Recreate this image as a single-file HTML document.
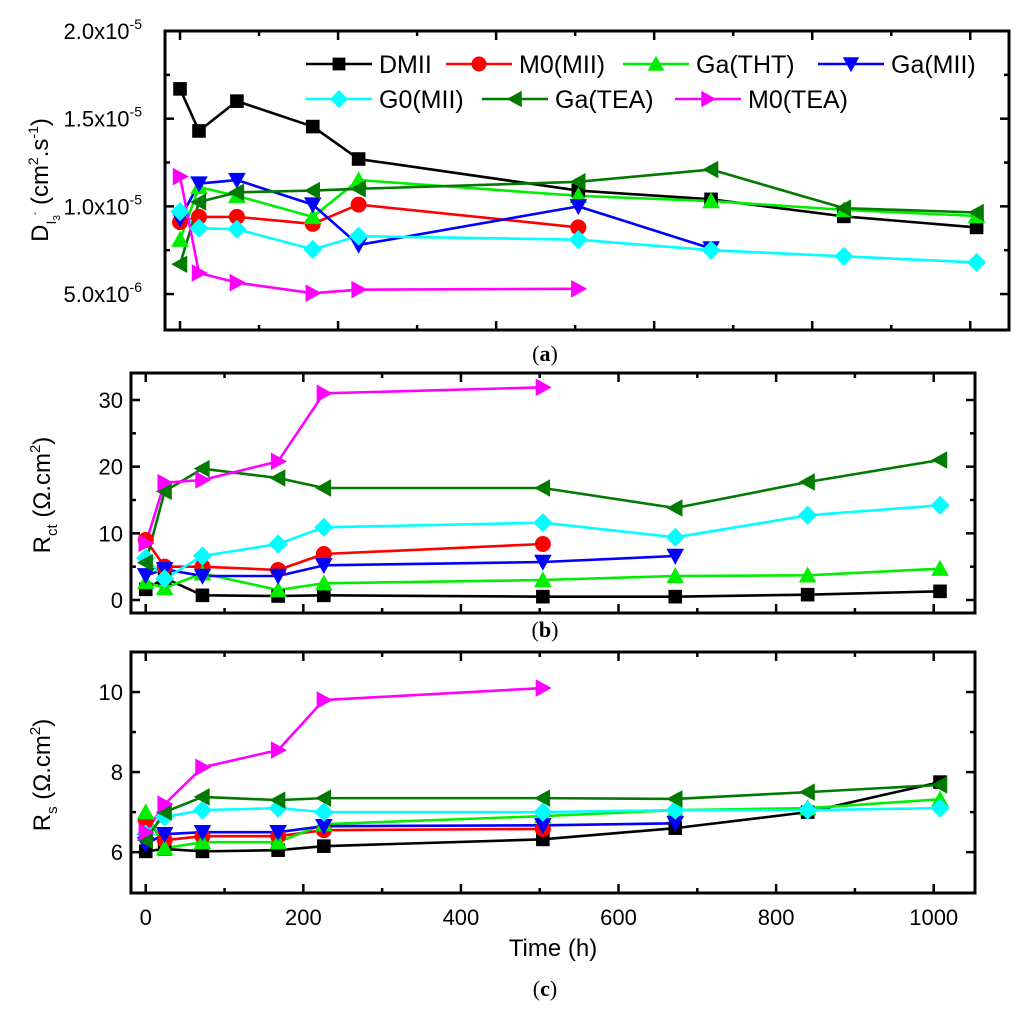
<!DOCTYPE html>
<html><head><meta charset="utf-8"><style>
html,body{margin:0;padding:0;background:#fff;}
svg{display:block;font-family:"Liberation Sans",sans-serif;}
</style></head><body>
<svg id="chart" width="1024" height="1016" viewBox="0 0 1024 1016" xmlns="http://www.w3.org/2000/svg"></svg>
<script>
const seriesNames = ["DMII","M0(MII)","Ga(THT)","Ga(MII)","G0(MII)","Ga(TEA)","M0(TEA)"];
const seriesColors = ["#000000","#ff0000","#00ee00","#0000ff","#00ffff","#007a00","#ff00ff"];
const seriesMarkers = ["square","circle","up","down","diamond","left","right"];

// Panel (a): D_I3 (x1e-5)
const timesA = [0,24,72,168,226,504,672,840,1008];
const dA_DMII = [1.67,1.43,1.60,1.455,1.27,1.09,1.04,0.943,0.88];
const dA_M0MII = [0.91,0.94,0.94,0.90,1.01,0.88];
const dA_GaTHT = [0.81,1.11,1.06,0.94,1.15,1.06,1.03,0.98,0.945];
const dA_GaMII = [0.93,1.13,1.15,1.01,0.78,1.00,0.76];
const dA_G0MII = [0.97,0.875,0.87,0.755,0.83,0.81,0.75,0.715,0.68];
const dA_GaTEA = [0.67,1.025,1.08,1.09,1.10,1.14,1.21,0.99,0.965];
const dA_M0TEA = [1.17,0.62,0.565,0.505,0.525,0.53];
const yTicksA = ["5.0x10","1.0x10","1.5x10","2.0x10"];
const yTickValsA = [0.5,1.0,1.5,2.0];
const yTickExpA = ["-6","-5","-5","-5"];

// Panel (b): Rct
const times = [0,24,72,168,226,504,672,840,1008];
const dB_DMII = [1.6,3.3,0.7,0.6,0.7,0.5,0.5,0.8,1.3];
const dB_M0MII = [9.0,5.0,5.0,4.5,6.9,8.4];
const dB_GaTHT = [2.7,1.8,4.0,1.5,2.5,3.0,3.6,3.7,4.7];
const dB_GaMII = [3.7,4.6,3.6,3.6,5.2,5.7,6.6];
const dB_G0MII = [6.3,3.2,6.6,8.4,10.9,11.6,9.4,12.7,14.2];
const dB_GaTEA = [5.6,16.3,19.7,18.3,16.8,16.8,13.8,17.7,21.0];
const dB_M0TEA = [8.5,17.6,18.0,20.8,31.0,31.9];
const yTicksB = ["0","10","20","30"];

// Panel (c): Rs
const dC_DMII = [6.02,6.08,6.02,6.05,6.15,6.32,6.6,7.0,7.75];
const dC_M0MII = [6.8,6.3,6.4,6.4,6.55,6.58];
const dC_GaTHT = [7.0,6.1,6.25,6.25,6.7,6.9,7.05,7.1,7.32];
const dC_GaMII = [6.2,6.45,6.5,6.5,6.65,6.67,6.72];
const dC_G0MII = [6.45,6.88,7.05,7.1,7.0,7.0,7.05,7.05,7.1];
const dC_GaTEA = [6.3,7.0,7.38,7.3,7.35,7.35,7.33,7.5,7.68];
const dC_M0TEA = [6.5,7.2,8.12,8.55,9.8,10.1];
const yTicksC = ["6","8","10"];
const xTicksC = ["0","200","400","600","800","1000"];

const NS="http://www.w3.org/2000/svg";
const svg=document.getElementById('chart');
function mk(tag,attrs,parent){const e=document.createElementNS(NS,tag);for(const k in attrs)e.setAttribute(k,attrs[k]);(parent||svg).appendChild(e);return e;}

function marker(g,type,cx,cy,color,s){
  let e;
  if(type==="square"){e=mk('rect',{x:cx-s*0.85,y:cy-s*0.85,width:s*1.7,height:s*1.7,fill:color},g);}
  else if(type==="circle"){e=mk('circle',{cx:cx,cy:cy,r:s,fill:color},g);}
  else if(type==="diamond"){e=mk('polygon',{points:`${cx},${cy-s*1.2} ${cx+s*1.2},${cy} ${cx},${cy+s*1.2} ${cx-s*1.2},${cy}`,fill:color},g);}
  else if(type==="up"){e=mk('polygon',{points:`${cx},${cy-s*1.1} ${cx+s*1.1},${cy+s*0.9} ${cx-s*1.1},${cy+s*0.9}`,fill:color},g);}
  else if(type==="down"){e=mk('polygon',{points:`${cx},${cy+s*1.1} ${cx+s*1.1},${cy-s*0.9} ${cx-s*1.1},${cy-s*0.9}`,fill:color},g);}
  else if(type==="left"){e=mk('polygon',{points:`${cx-s*1.1},${cy} ${cx+s*0.9},${cy-s*1.1} ${cx+s*0.9},${cy+s*1.1}`,fill:color},g);}
  else {e=mk('polygon',{points:`${cx+s*1.1},${cy} ${cx-s*0.9},${cy-s*1.1} ${cx-s*0.9},${cy+s*1.1}`,fill:color},g);}
  return e;
}

function panel(cfg){
  const g=mk('g',{});
  
  
  const {L,R,T,B,x0,x1,y0,y1}=cfg;
  const sx=v=>L+(v-x0)/(x1-x0)*(R-L);
  const sy=v=>B-(v-y0)/(y1-y0)*(B-T);
  cfg.series.forEach((d,i)=>{
    const sg=mk('g',{},g);
    
    
    const pts=d.map((v,j)=>sx(cfg.times[j])+','+sy(v)).join(' ');
    mk('polyline',{points:pts,fill:'none',stroke:seriesColors[i],'stroke-width':2.6,'stroke-linejoin':'round'},sg);
  });
  cfg.series.forEach((d,i)=>{
    d.forEach((v,j)=>{
      const m=marker(g,seriesMarkers[i],sx(cfg.times[j]),sy(v),seriesColors[i],8);
      
      
    });
  });
  const fr=mk('rect',{x:L,y:T,width:R-L,height:B-T,fill:'none',stroke:'#000','stroke-width':3},g);
  
  
  for(let t=0;t<=x1;t+=100){
    const X=sx(t); if(X<L||X>R)continue;
    const len=(t%200===0)?9:5;
    mk('line',{x1:X,y1:B,x2:X,y2:B-len,stroke:'#000','stroke-width':2.5},g);
    mk('line',{x1:X,y1:T,x2:X,y2:T+len,stroke:'#000','stroke-width':2.5},g);
  }
  for(let v=cfg.yMinorStart;v<=y1+1e-9;v+=cfg.yMinor){
    const Y=sy(v); if(Y<T+2||Y>B-2)continue;
    const isMaj=Math.abs(Math.round(v/cfg.yMajor)*cfg.yMajor-v)<1e-6;
    const len=isMaj?9:5;
    mk('line',{x1:L,y1:Y,x2:L+len,y2:Y,stroke:'#000','stroke-width':2.5},g);
    mk('line',{x1:R,y1:Y,x2:R-len,y2:Y,stroke:'#000','stroke-width':2.5},g);
  }
  return {g,sx,sy};
}

// Panel A
const pa=panel({name:'panel-a-diffusion',prefix:'a',L:165,R:1009,T:31,B:330,x0:-19,x1:1049,y0:0.295,y1:2.0,
  times:timesA,series:[dA_DMII,dA_M0MII,dA_GaTHT,dA_GaMII,dA_G0MII,dA_GaTEA,dA_M0TEA],yMinor:0.25,yMajor:0.5,yMinorStart:0.25});
yTickValsA.forEach((v,i)=>{
  const t=mk('text',{x:142,y:pa.sy(v)+8,'text-anchor':'end','font-size':22});
  
  
  t.textContent=yTicksA[i];
  const s=mk('tspan',{dy:-10,'font-size':14},t); s.textContent=yTickExpA[i];
});
const ta=mk('text',{transform:'translate(48,180) rotate(-90)','text-anchor':'middle','font-size':24});


ta.innerHTML='D<tspan font-size="14" dy="8">I</tspan><tspan font-size="10" dy="4">3</tspan><tspan font-size="10" dy="-22">-</tspan><tspan dy="10"> (cm</tspan><tspan font-size="14" dy="-10">2</tspan><tspan dy="10">.s</tspan><tspan font-size="14" dy="-10">-1</tspan><tspan dy="10">)</tspan>';

// legend
const legG=mk('g',{});


const legPos=[[306,64],[446,64],[623,64],[818,64],[306,99],[482,99],[675,99]];
[0,1,2,3,4,5,6].forEach((si,k)=>{
  const [lx,ly]=legPos[k];
  const eg=mk('g',{},legG);
  
  
  mk('line',{x1:lx,y1:ly,x2:lx+66,y2:ly,stroke:seriesColors[si],'stroke-width':2.6},eg);
  marker(eg,seriesMarkers[si],lx+33,ly,seriesColors[si],7.5);
  const t=mk('text',{x:lx+73,y:ly+9,'font-size':25},eg);
  t.textContent=seriesNames[si];
});

// Panel B
const pb=panel({name:'panel-b-rct',prefix:'b',L:131,R:975,T:373,B:613,x0:-18.7,x1:1052.4,y0:-1.95,y1:34.05,
  times:times,series:[dB_DMII,dB_M0MII,dB_GaTHT,dB_GaMII,dB_G0MII,dB_GaTEA,dB_M0TEA],yMinor:5,yMajor:10,yMinorStart:0});
yTicksB.forEach(l=>{
  const t=mk('text',{x:123,y:pb.sy(+l)+8,'text-anchor':'end','font-size':22});
  
  
  t.textContent=l;
});
const tb=mk('text',{transform:'translate(50,495) rotate(-90)','text-anchor':'middle','font-size':24});


tb.innerHTML='R<tspan font-size="15" dy="7">ct</tspan><tspan dy="-7"> (Ω.cm</tspan><tspan font-size="15" dy="-10">2</tspan><tspan dy="10">)</tspan>';

// Panel C
const pc=panel({name:'panel-c-rs',prefix:'c',L:131,R:975,T:652,B:893,x0:-18.7,x1:1052.4,y0:4.98,y1:11.0,
  times:times,series:[dC_DMII,dC_M0MII,dC_GaTHT,dC_GaMII,dC_G0MII,dC_GaTEA,dC_M0TEA],yMinor:1,yMajor:2,yMinorStart:6});
yTicksC.forEach(l=>{
  const t=mk('text',{x:123,y:pc.sy(+l)+8,'text-anchor':'end','font-size':22});
  
  
  t.textContent=l;
});
xTicksC.forEach(l=>{
  const t=mk('text',{x:pc.sx(+l),y:925,'text-anchor':'middle','font-size':22});
  
  
  t.textContent=l;
});
const tc=mk('text',{transform:'translate(50,775) rotate(-90)','text-anchor':'middle','font-size':24});


tc.innerHTML='R<tspan font-size="15" dy="7">s</tspan><tspan dy="-7"> (Ω.cm</tspan><tspan font-size="15" dy="-10">2</tspan><tspan dy="10">)</tspan>';
const xt=mk('text',{x:553,y:956,'text-anchor':'middle','font-size':24});


xt.textContent='Time (h)';

[['(a)',361,'caption-a'],['(b)',637,'caption-b'],['(c)',996,'caption-c']].forEach(([s,y,n])=>{
  const t=mk('text',{x:545,y:y,'text-anchor':'middle','font-size':22,'font-family':'Liberation Serif, serif'});
  
  
  t.innerHTML='(<tspan font-weight="bold">'+s[1]+'</tspan>)';
});
</script>
</body></html>
